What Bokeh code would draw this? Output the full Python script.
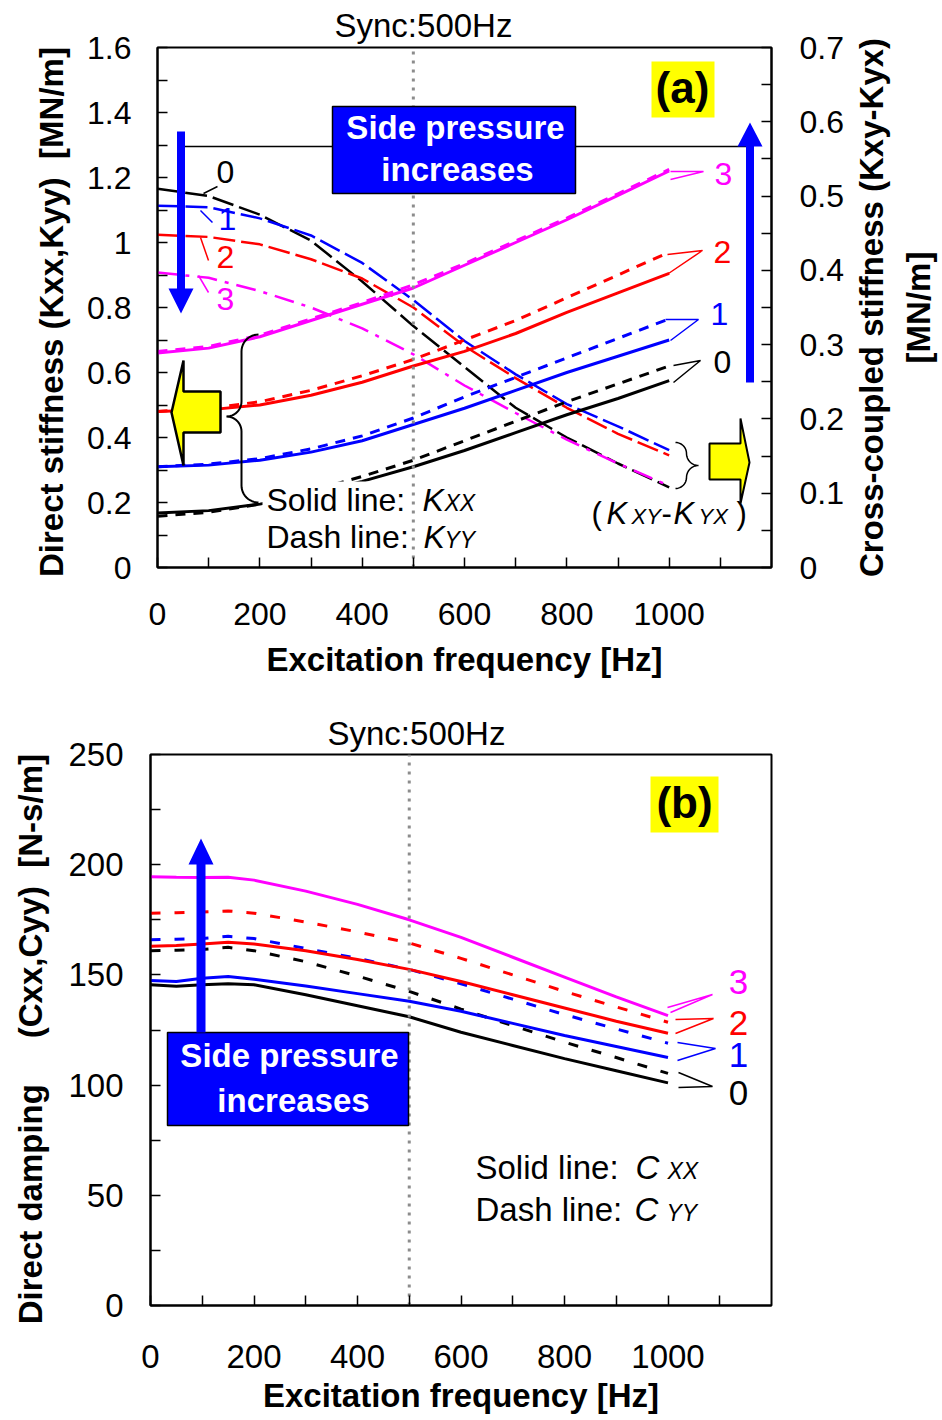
import math
from bokeh.plotting import figure
from bokeh.layouts import row
from bokeh.models import Range1d, LinearAxis, FixedTicker, CustomJSTickFormatter, Label
from bokeh.embed import file_html
from bokeh.resources import INLINE

FONT = "Liberation Sans"
BLACK, BLUE, RED, MAGENTA = "#000000", "#0000FF", "#FF0000", "#FF00FF"
YELLOW = "#FFFF00"
SYNC_COLOR = "#8c8c8c"
NB = "\u00a0"

# ---------------------------------------------------------------- data (a)
freq_k = [0, 100, 200, 300, 400, 500, 600, 700, 800, 900, 1000]
# direct stiffness [MN/m] (left axis)
kxx_0 = [0.168, 0.175, 0.195, 0.225, 0.265, 0.31, 0.36, 0.415, 0.47, 0.52, 0.575]
kyy_0 = [0.158, 0.17, 0.195, 0.235, 0.28, 0.33, 0.39, 0.45, 0.51, 0.565, 0.62]
kxx_1 = [0.31, 0.315, 0.33, 0.355, 0.39, 0.44, 0.49, 0.545, 0.60, 0.65, 0.70]
kyy_1 = [0.31, 0.318, 0.335, 0.365, 0.405, 0.46, 0.525, 0.585, 0.645, 0.705, 0.765]
kxx_2 = [0.48, 0.485, 0.50, 0.53, 0.57, 0.62, 0.665, 0.72, 0.785, 0.845, 0.905]
kyy_2 = [0.48, 0.49, 0.51, 0.545, 0.59, 0.64, 0.70, 0.76, 0.83, 0.90, 0.97]
kxx_3 = [0.66, 0.675, 0.71, 0.76, 0.81, 0.86, 0.93, 1.0, 1.07, 1.145, 1.22]
kyy_3 = [0.665, 0.68, 0.715, 0.765, 0.815, 0.87, 0.935, 1.005, 1.075, 1.15, 1.225]
# cross-coupled stiffness Kxy-Kyx [MN/m] (right axis)
kc_0 = [0.51, 0.50, 0.475, 0.44, 0.385, 0.325, 0.27, 0.215, 0.175, 0.14, 0.108]
kc_1 = [0.487, 0.485, 0.47, 0.447, 0.41, 0.36, 0.305, 0.26, 0.22, 0.19, 0.158]
kc_2 = [0.448, 0.445, 0.435, 0.415, 0.389, 0.35, 0.298, 0.255, 0.215, 0.18, 0.151]
kc_3 = [0.397, 0.39, 0.372, 0.35, 0.322, 0.287, 0.245, 0.208, 0.172, 0.14, 0.11]

# ---------------------------------------------------------------- data (b)
freq_c = [0, 50, 100, 150, 200, 300, 400, 500, 600, 700, 800, 900, 1000]
cxx_0 = [145.5, 144.8, 145.5, 146, 145.5, 141, 136, 131, 124, 118, 112, 106.5, 101]
cyy_0 = [161, 161.2, 161.5, 162.5, 161, 156, 149.5, 142.5, 134.5, 127, 119.5, 112.5, 105.3]
cxx_1 = [147.5, 147, 148.5, 149.3, 148, 145, 141.5, 138, 133.5, 128, 122.5, 117.5, 112.5]
cyy_1 = [166, 166.2, 166.5, 167.5, 166.5, 162, 157.5, 152.5, 146, 139, 132, 125.5, 119]
cxx_2 = [163, 163.3, 164, 164.8, 164, 161, 157, 152.5, 147, 141, 135, 129, 123.5]
cyy_2 = [178, 178.2, 178.5, 179, 178, 174, 169.5, 164.5, 157.5, 150, 142.5, 135.5, 128.5]
cxx_3 = [194.5, 194.3, 194.2, 194.3, 193, 188, 182, 175, 167, 158, 149, 140, 131.5]

sync_freq = 500
x_ticks = [0, 200, 400, 600, 800, 1000]
x_minor = [100, 300, 500, 700, 900, 1100]
k_ticks = [0, 0.2, 0.4, 0.6, 0.8, 1.0, 1.2, 1.4, 1.6]
k_minor = [0.1, 0.3, 0.5, 0.7, 0.9, 1.1, 1.3, 1.5]
kc_ticks = [0, 0.1, 0.2, 0.3, 0.4, 0.5, 0.6, 0.7]
kc_minor = [0.05, 0.15, 0.25, 0.35, 0.45, 0.55, 0.65]
c_ticks = [0, 50, 100, 150, 200, 250]
c_minor = [25, 75, 125, 175, 225]
pressure_labels = ["0", "1", "2", "3"]


# ---------------------------------------------------------------- helpers
def make_fig(width, height, left, right, top, bottom, yr):
    p = figure(width=width, height=height, x_range=Range1d(0, 1200), y_range=Range1d(*yr),
               output_backend="svg", toolbar_location=None,
               min_border_left=left, min_border_right=right,
               min_border_top=top, min_border_bottom=bottom)
    p.xgrid.visible = False
    p.ygrid.visible = False
    p.outline_line_color = "black"
    p.outline_line_width = 2
    p.outline_line_alpha = 1
    p.background_fill_color = "white"
    p.border_fill_color = "white"
    return p


def style_axis(ax, ticks, minor, size, standoff, label=None, label_standoff=0):
    ax.ticker = FixedTicker(ticks=ticks, minor_ticks=minor)
    ax.formatter = CustomJSTickFormatter(code="return String(Math.round(tick * 1000) / 1000);")
    ax.axis_line_color = "black"
    ax.axis_line_width = 2
    ax.major_tick_in = 10
    ax.major_tick_out = 0
    ax.minor_tick_in = 10
    ax.minor_tick_out = 0
    ax.major_tick_line_color = "black"
    ax.minor_tick_line_color = "black"
    ax.major_tick_line_width = 1.5
    ax.minor_tick_line_width = 1.5
    ax.major_label_text_font = FONT
    ax.major_label_text_font_size = f"{size}px"
    ax.major_label_text_color = "black"
    ax.major_label_standoff = standoff
    ax.axis_label = label
    ax.axis_label_text_font = FONT
    ax.axis_label_text_font_size = "33px"
    ax.axis_label_text_font_style = "bold"
    ax.axis_label_text_color = "black"
    ax.axis_label_standoff = label_standoff
    ax.axis_label_text_line_height = 1.25


def style_title(p, text, offset, standoff):
    p.title.text = text
    p.title.align = "left"
    p.title.offset = offset
    p.title.standoff = standoff
    p.title.text_font = FONT
    p.title.text_font_size = "33px"
    p.title.text_font_style = "normal"
    p.title.text_color = "black"


def converters(left, top, w, h, xr, yr):
    def X(px):
        return xr[0] + (px - left) / w * (xr[1] - xr[0])

    def Y(py):
        return yr[0] + (top + h - py) / h * (yr[1] - yr[0])
    return X, Y


def lab(p, X, Y, px, py, text, size, style="normal", color="black", align="left"):
    # py is the wanted baseline; bokeh puts the anchor ~0.37 em above the baseline
    p.add_layout(Label(x=X(px), y=Y(py - 0.37 * size), text=text, text_font=FONT,
                       text_font_size=f"{size}px", text_font_style=style,
                       text_color=color, text_align=align, text_baseline="alphabetic"))


def poly(p, X, Y, pts, fill, line="black", lw=2.0):
    p.patch([X(a) for a, b in pts], [Y(b) for a, b in pts], fill_color=fill,
            line_color=line, line_width=lw)


def pline(p, X, Y, pts, color, lw=1.5):
    p.line([X(a) for a, b in pts], [Y(b) for a, b in pts], line_color=color, line_width=lw)


def rect(p, X, Y, x0, y0, x1, y1, fill, line=None, lw=1.5):
    p.quad(left=[X(x0)], right=[X(x1)], top=[Y(y0)], bottom=[Y(y1)], fill_color=fill,
           line_color=line, line_width=lw)


def brace_pts(xe, xm, xt, y0, y1, ym, n=12):
    r1 = abs(xe - xm)
    r2 = abs(xm - xt)
    s = 1 if xt < xm else -1
    pts = []
    for i in range(n + 1):
        a = math.pi / 2 * i / n
        pts.append((xe - s * r1 * math.sin(a), y0 + r1 - r1 * math.cos(a)))
    for i in range(n + 1):
        a = math.pi / 2 * i / n
        pts.append((xt + s * r2 * math.cos(a), ym - r2 + r2 * math.sin(a)))
    for i in range(n + 1):
        a = math.pi / 2 * i / n
        pts.append((xt + s * r2 * math.sin(a), ym + r2 - r2 * math.cos(a)))
    for i in range(n + 1):
        a = math.pi / 2 * i / n
        pts.append((xe - s * r1 * math.cos(a), y1 - r1 + r1 * math.sin(a)))
    return pts


def arrow_pts(xc, y_tail, y_tip, shaft_w, head_w, head_len):
    d = 1 if y_tip > y_tail else -1
    yb = y_tip - d * head_len
    return [(xc - shaft_w / 2, y_tail), (xc + shaft_w / 2, y_tail), (xc + shaft_w / 2, yb),
            (xc + head_w / 2, yb), (xc, y_tip), (xc - head_w / 2, yb), (xc - shaft_w / 2, yb)]


# ================================================================ figure (a)
p1 = make_fig(850, 700, 157, 79, 47, 133, (0, 1.6))
p1.extra_y_ranges = {"cc": Range1d(0, 0.7)}
p1.add_layout(LinearAxis(y_range_name="cc"), "right")
style_axis(p1.xaxis[0], x_ticks, x_minor, 32, 35, "Excitation frequency [Hz]", 13)
style_axis(p1.yaxis[0], k_ticks, k_minor, 32, 26,
           "Direct stiffness (Kxx,Kyy) " + NB + "[MN/m]" + NB, 14)
style_axis(p1.yaxis[1], kc_ticks, kc_minor, 32, 28)
style_title(p1, "Sync:500Hz", 177, 8)
X1, Y1 = converters(157, 47, 614, 520, (0, 1200), (0, 1.6))

# right-hand title of (a), drawn as the axis title of a narrow neighbour panel
pr = figure(width=92, height=700, x_range=Range1d(0, 1), y_range=Range1d(0, 1),
            output_backend="svg", toolbar_location=None, min_border_left=88,
            min_border_right=2, min_border_top=47, min_border_bottom=133)
pr.xaxis.visible = False
pr.xgrid.visible = False
pr.ygrid.visible = False
pr.outline_line_color = None
pr.background_fill_color = "white"
pr.border_fill_color = "white"
ra = pr.yaxis[0]
ra.ticker = FixedTicker(ticks=[])
ra.axis_line_color = None
ra.major_tick_line_color = None
ra.minor_tick_line_color = None
ra.major_label_text_font_size = "0px"
ra.axis_label = "Cross-coupled stiffness (Kxy-Kyx)\n[MN/m]"
ra.axis_label_text_font = FONT
ra.axis_label_text_font_size = "33px"
ra.axis_label_text_font_style = "bold"
ra.axis_label_text_color = "black"
ra.axis_label_standoff = 2
ra.axis_label_text_line_height = 1.25

# connector line behind the box
pline(p1, X1, Y1, [(180, 146), (749, 146)], "black", 1.5)

colors = [BLACK, BLUE, RED, MAGENTA]
for ys, c in zip([kc_0, kc_1, kc_2], colors[:3]):
    p1.line(freq_k, ys, y_range_name="cc", line_color=c, line_width=2.5, line_dash="22 6")
p1.line(freq_k, kc_3, y_range_name="cc", line_color=MAGENTA, line_width=2.5,
        line_dash="20 8 4 8")
for ys, c in zip([kxx_0, kxx_1, kxx_2, kxx_3], colors):
    p1.line(freq_k, ys, line_color=c, line_width=3)
for ys, c in zip([kyy_0, kyy_1, kyy_2, kyy_3], colors):
    p1.line(freq_k, ys, line_color=c, line_width=3, line_dash="10 8")

# white background of the line-style note
rect(p1, X1, Y1, 262, 481, 492, 556, "white", None)
# synchronous frequency
p1.line([sync_freq, sync_freq], [0, 1.6], line_color=SYNC_COLOR, line_width=3,
        line_dash="3 6")
# boxes
rect(p1, X1, Y1, 332, 106, 575, 193, BLUE, "black", 1.5)
rect(p1, X1, Y1, 651, 61, 714, 117, YELLOW, None)
# arrows
poly(p1, X1, Y1, arrow_pts(180.5, 131, 313, 8, 25, 25), BLUE, None, 0)
poly(p1, X1, Y1, arrow_pts(749.5, 382, 122, 8, 25, 24), BLUE, None, 0)
poly(p1, X1, Y1, [(171, 412), (183, 360), (183, 391), (220, 391), (220, 432), (183, 432),
                  (183, 465)], YELLOW, "black", 2.5)
poly(p1, X1, Y1, [(709, 443), (740, 443), (740, 418), (749, 462), (740, 503), (740, 479),
                  (709, 479)], YELLOW, "black", 2)
# braces
pline(p1, X1, Y1, brace_pts(258, 241, 226, 334, 502, 416), "black", 2)
pline(p1, X1, Y1, brace_pts(675, 686, 698, 442, 488, 465), "black", 1.5)
# leader lines
for pts, c in [([(203, 193), (217, 186)], BLACK), ([(200, 210), (212, 222)], BLUE),
               ([(200, 237), (208, 260)], RED), ([(198, 275), (208, 292)], MAGENTA),
               ([(670, 171), (703, 171), (670, 179)], MAGENTA),
               ([(667, 254), (702, 250), (668, 273)], RED),
               ([(665, 319), (698, 319), (670, 340)], BLUE),
               ([(673, 365), (700, 360), (673, 382)], BLACK)]:
    pline(p1, X1, Y1, pts, c, 1.5)

# texts
for t, px, py, c in zip(pressure_labels, [225, 227, 225, 225], [183, 230, 268, 310], colors):
    lab(p1, X1, Y1, px, py, t, 32, color=c, align="center")
for t, px, py, c in zip(pressure_labels, [722, 719, 722, 723], [373, 325, 263, 185], colors):
    lab(p1, X1, Y1, px, py, t, 32, color=c, align="center")
lab(p1, X1, Y1, 455, 139, "Side pressure", 33, "bold", "white", "center")
lab(p1, X1, Y1, 457, 181, "increases", 33, "bold", "white", "center")
lab(p1, X1, Y1, 682, 103, "(a)", 44, "bold", "black", "center")
lab(p1, X1, Y1, 266, 511, "Solid line:", 32)
lab(p1, X1, Y1, 422, 511, "K", 32, "italic")
lab(p1, X1, Y1, 444, 511, "XX", 23, "italic")
lab(p1, X1, Y1, 266, 548, "Dash line:", 32)
lab(p1, X1, Y1, 423, 548, "K", 32, "italic")
lab(p1, X1, Y1, 444, 548, "YY", 23, "italic")
lab(p1, X1, Y1, 591, 524, "(", 31)
lab(p1, X1, Y1, 606, 524, "K", 31, "italic")
lab(p1, X1, Y1, 631, 524, "XY", 22, "italic")
lab(p1, X1, Y1, 661, 524, "-", 31)
lab(p1, X1, Y1, 673, 524, "K", 31, "italic")
lab(p1, X1, Y1, 698, 524, "YX", 22, "italic")
lab(p1, X1, Y1, 736, 524, ")", 31)

# ================================================================ figure (b)
p2 = make_fig(942, 720, 150, 171, 54, 115, (0, 250))
style_axis(p2.xaxis[0], x_ticks, x_minor, 33, 39, "Excitation frequency [Hz]", 6)
style_axis(p2.yaxis[0], c_ticks, c_minor, 33, 27,
           "Direct damping " + NB + " " + NB + " (Cxx,Cyy) " + NB + "[N-s/m]" + NB + NB, 16)
style_title(p2, "Sync:500Hz", 177, 5)
X2, Y2 = converters(150, 754, 621, 551, (0, 1200), (0, 250))

for ys, c in zip([cyy_0, cyy_1, cyy_2], colors[:3]):
    p2.line(freq_c, ys, line_color=c, line_width=3, line_dash="10 14")
for ys, c in zip([cxx_0, cxx_1, cxx_2, cxx_3], colors):
    p2.line(freq_c, ys, line_color=c, line_width=3)

p2.line([sync_freq, sync_freq], [0, 250], line_color=SYNC_COLOR, line_width=3,
        line_dash="3 6")
rect(p2, X2, Y2, 167, 1032, 408, 1125, BLUE, "black", 1.5)
rect(p2, X2, Y2, 650, 776, 718, 832, YELLOW, None)
poly(p2, X2, Y2, arrow_pts(200.5, 1032, 838, 9, 25, 26), BLUE, None, 0)
for pts, c in [([(667, 1007), (712, 994), (670, 1012)], MAGENTA),
               ([(675, 1019), (713, 1018), (675, 1033)], RED),
               ([(677, 1042), (715, 1048), (677, 1060)], BLUE),
               ([(678, 1072), (712, 1086), (678, 1087)], BLACK)]:
    pline(p2, X2, Y2, pts, c, 1.5)

for t, py, c in zip(pressure_labels, [1105, 1067, 1035, 994], colors):
    lab(p2, X2, Y2, 738, py, t, 35, color=c, align="center")
lab(p2, X2, Y2, 289, 1067, "Side pressure", 33, "bold", "white", "center")
lab(p2, X2, Y2, 293, 1112, "increases", 33, "bold", "white", "center")
lab(p2, X2, Y2, 684, 818, "(b)", 44, "bold", "black", "center")
lab(p2, X2, Y2, 475, 1179, "Solid line:", 33)
lab(p2, X2, Y2, 635, 1179, "C", 33, "italic")
lab(p2, X2, Y2, 667, 1179, "XX", 23, "italic")
lab(p2, X2, Y2, 475, 1221, "Dash line:", 33)
lab(p2, X2, Y2, 634, 1221, "C", 33, "italic")
lab(p2, X2, Y2, 666, 1221, "YY", 23, "italic")

open("out.html", "w").write(file_html([row(p1, pr), p2], INLINE))
